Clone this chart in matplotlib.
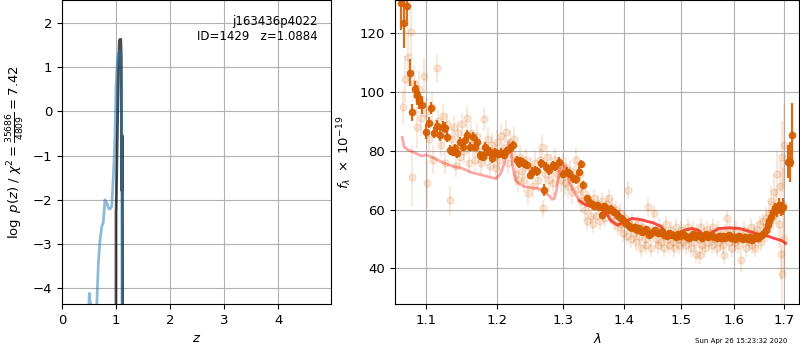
import numpy as np
import matplotlib
matplotlib.use('Agg')
import matplotlib.pyplot as plt
from matplotlib.ticker import FixedLocator, FormatStrFormatter, NullLocator

# ---- left panel: log p(z)
z_coarse = [0.49, 0.506, 0.52, 0.55, 0.60, 0.64, 0.673, 0.704, 0.735, 0.765, 0.796,
            0.827, 0.84, 0.865, 0.889, 0.92, 0.95, 0.98, 1.00, 1.025, 1.043, 1.063,
            1.074, 1.085, 1.099, 1.105, 1.111, 1.12]
lnp_coarse = [-4.6, -4.12, -4.3, -4.45, -4.6, -4.5, -3.44, -2.91, -2.62, -2.5, -2.0,
              -2.07, -2.11, -2.2, -2.21, -2.15, -1.5, -0.64, 0.57, 1.15, 1.3, 1.37,
              1.37, 1.2, 0.57, -1.5, -4.6, -5.0]

z_fine = [0.999, 1.000, 1.003, 1.02, 1.045, 1.062, 1.075, 1.088, 1.098, 1.101,
          1.104, 1.108, 1.114, 1.116, 1.120, 1.124]
lnp_fine = [-6.0, -2.3, -2.2, -0.8, 0.9, 1.6, 1.63, 1.63, 1.2, -0.5, -1.6, -1.8,
            -1.0, -0.55, -2.5, -6.0]

root = 'j163436p4022'
obj_id = 1429
z_best = 1.0884
chi2 = 35686
dof = 4809

# ---- right panel: spectrum (wavelength in micron, flux x 1e-19)
bin_wave = [1.0680, 1.0714, 1.0758, 1.0793, 1.0823, 1.0858, 1.0889, 1.0916, 1.0947,
            1.1004, 1.1045, 1.1072, 1.1116, 1.1148, 1.1193, 1.1230, 1.1261, 1.1293,
            1.1330, 1.1367, 1.1399, 1.1432, 1.1469, 1.1506, 1.1539, 1.1571, 1.1609,
            1.1647, 1.1680, 1.1713, 1.1751, 1.1789, 1.1822, 1.1856, 1.1894, 1.1928,
            1.1967, 1.2015, 1.2050, 1.2090, 1.2131, 1.2192, 1.2232, 1.2283, 1.2318,
            1.2354, 1.2394, 1.2434, 1.2485, 1.2520, 1.2556, 1.2586, 1.2646, 1.2697,
            1.2737, 1.2773, 1.2838, 1.2874, 1.2939, 1.3000, 1.3055, 1.3098, 1.3153,
            1.3208, 1.3246, 1.3284, 1.3317,
            1.338, 1.342, 1.346, 1.350, 1.354, 1.358, 1.362, 1.366, 1.370, 1.374,
            1.378, 1.382, 1.386, 1.390, 1.394, 1.398, 1.402, 1.406, 1.410, 1.414,
            1.418, 1.422, 1.426, 1.430, 1.434, 1.438, 1.442, 1.446, 1.450, 1.454,
            1.458, 1.462, 1.466, 1.470, 1.474, 1.478, 1.482, 1.486, 1.490, 1.494,
            1.498, 1.502, 1.506, 1.510, 1.514, 1.518, 1.522, 1.526, 1.530, 1.534,
            1.538, 1.542, 1.546, 1.550, 1.554, 1.558, 1.562, 1.566, 1.570, 1.574,
            1.578, 1.582, 1.586, 1.590, 1.594, 1.598, 1.602, 1.606, 1.610, 1.614,
            1.618, 1.622, 1.626, 1.630, 1.634, 1.638, 1.642, 1.646, 1.650, 1.654,
            1.658, 1.662, 1.666, 1.670, 1.674, 1.678, 1.682, 1.686, 1.690, 1.694,
            1.698, 1.707, 1.713, 1.716]
bin_flux = [130.2, 123.4, 129.3, 106.6, 93.1, 100.9, 99.0, 97.3, 95.6,
            86.5, 89.6, 94.5, 86.2, 88.4, 85.4, 88.2, 87.9, 84.8,
            80.3, 79.7, 80.8, 79.1, 83.1, 81.4, 83.7, 85.4, 81.4,
            84.8, 81.4, 83.1, 78.5, 78.0, 81.4, 79.7, 79.7, 77.4,
            79.5, 78.9, 79.4, 78.6, 79.9, 80.8, 82.0, 76.9, 75.7,
            76.5, 75.8, 75.2, 71.8, 72.9, 73.5, 73.0, 75.7, 66.8,
            74.6, 73.4, 75.1, 74.8, 76.3, 72.1, 72.9, 72.3, 70.6,
            70.3, 72.9, 75.5, 68.4,
            63.8, 62.7, 61.8, 61.2, 61.5, 60.8, 58.1, 61.1, 60.5, 59.8,
            60.3, 59.3, 58.7, 57.9, 57.1, 56.4, 55.4, 54.7, 54.2, 53.6,
            54.0, 53.0, 53.6, 52.5, 52.8, 53.4, 51.3, 52.0, 52.5, 53.2,
            52.2, 51.9, 52.6, 51.4, 51.0, 52.0, 51.6, 51.3, 50.6, 51.6,
            51.2, 52.0, 51.3, 50.8, 50.2, 51.0, 51.6, 50.8, 51.4, 50.9,
            50.3, 51.2, 51.8, 50.6, 50.9, 51.5, 50.7, 50.5, 51.2, 50.4,
            51.0, 50.2, 50.9, 51.4, 50.3, 50.8, 49.9, 50.6, 51.1, 50.4,
            50.0, 50.8, 50.1, 50.7, 49.8, 50.3, 51.0, 50.4, 50.9, 51.5,
            51.9, 53.0, 54.7, 56.2, 57.6, 59.3, 60.4, 59.8, 61.5, 60.2,
            61.0, 76.3, 76.3, 85.4]
bin_err = [9.0, 8.5, 5.0, 4.5, 2.9, 3.0, 3.5, 3.0, 3.0,
           2.5, 2.0, 2.0, 2.0, 2.0, 2.0, 1.8, 1.8, 1.8,
           1.6, 1.6, 1.6, 1.6, 1.6, 1.6, 1.6, 1.6, 1.6,
           1.5, 1.5, 1.5, 1.5, 1.5, 1.5, 1.5, 1.5, 1.5,
           1.5, 1.5, 1.5, 1.5, 1.5, 1.5, 1.5, 1.5, 1.5,
           1.5, 1.5, 1.5, 1.5, 1.5, 1.5, 1.5, 1.5, 2.0,
           1.5, 1.5, 1.5, 1.5, 1.5, 1.5, 1.5, 1.5, 1.5,
           1.5, 1.5, 1.5, 1.5,
           1.2, 1.2, 1.2, 1.2, 1.2, 1.2, 1.2, 1.2, 1.2, 1.2,
           1.2, 1.2, 1.2, 1.2, 1.2, 1.2, 1.0, 1.0, 1.0, 1.0,
           1.0, 1.0, 1.0, 1.0, 1.0, 1.0, 1.0, 1.0, 1.0, 1.0,
           1.0, 1.0, 1.0, 1.0, 1.0, 1.0, 1.0, 1.0, 1.0, 1.0,
           1.0, 1.0, 1.0, 1.0, 1.0, 1.0, 1.0, 1.0, 1.0, 1.0,
           1.0, 1.0, 1.0, 1.0, 1.0, 1.0, 1.0, 1.0, 1.0, 1.0,
           1.0, 1.0, 1.0, 1.0, 1.0, 1.0, 1.0, 1.0, 1.0, 1.0,
           1.0, 1.0, 1.0, 1.0, 1.0, 1.0, 1.0, 1.0, 1.0, 1.2,
           1.2, 1.3, 1.4, 1.5, 1.6, 1.8, 2.0, 2.2, 2.5, 2.5,
           2.8, 5.7, 6.8, 10.8]

raw_wave = [1.0700, 1.0727, 1.0760, 1.0800, 1.0815, 1.0850, 1.0880, 1.0910, 1.0940,
            1.0980, 1.1000, 1.1020,
            1.1040, 1.1080, 1.1100, 1.1147, 1.1170, 1.1200, 1.1230, 1.1260, 1.1290,
            1.1325, 1.1350, 1.1380, 1.1410, 1.1440, 1.1470, 1.1500, 1.1530, 1.1560,
            1.1590, 1.1620, 1.1650, 1.1680, 1.1710, 1.1740, 1.1770, 1.1800, 1.1830,
            1.1860, 1.1890, 1.1920, 1.1950, 1.1980,
            1.2000, 1.2030, 1.2060, 1.2090, 1.2120, 1.2150, 1.2180, 1.2210, 1.2250,
            1.2270, 1.2300, 1.2330, 1.2360, 1.2400, 1.2430, 1.2460, 1.2500, 1.2530,
            1.2560, 1.2600, 1.2640, 1.2670, 1.2690, 1.2720, 1.2750, 1.2780, 1.2810,
            1.2840, 1.2870, 1.2900, 1.2930, 1.2960, 1.2990,
            1.3020, 1.3050, 1.3080, 1.3110, 1.3140, 1.3170, 1.3200, 1.3230, 1.3260,
            1.3290, 1.3320, 1.3350, 1.3380, 1.3410,
            1.3440, 1.3470, 1.3500, 1.3530, 1.3560, 1.3590, 1.3620, 1.3650, 1.3680,
            1.3710, 1.3740, 1.3770, 1.3800, 1.3830, 1.3860, 1.3890, 1.3920, 1.3950,
            1.3980,
            1.4010, 1.4040, 1.4060, 1.4080, 1.4110, 1.4140, 1.4170, 1.4200, 1.4230,
            1.4260, 1.4290, 1.4320, 1.4350, 1.4380, 1.4410, 1.4440, 1.4470, 1.4500,
            1.4520,
            1.4550, 1.4580, 1.4610, 1.4640, 1.4670, 1.4700, 1.4730, 1.4760, 1.4790,
            1.4820, 1.4850, 1.4880, 1.4910, 1.4940, 1.4970,
            1.5000, 1.5030, 1.5060, 1.5090, 1.5120, 1.5150, 1.5180, 1.5210, 1.5240,
            1.5270, 1.5300, 1.5330, 1.5350, 1.5360, 1.5390, 1.5420, 1.5450, 1.5480,
            1.5510, 1.5540, 1.5570, 1.5600, 1.5630, 1.5660, 1.5690, 1.5720, 1.5750,
            1.5780, 1.5800, 1.5830, 1.5860, 1.5890, 1.5920, 1.5950, 1.5980,
            1.6010, 1.6040, 1.6070, 1.6100, 1.6140, 1.6170, 1.6200, 1.6230, 1.6260,
            1.6290, 1.6320, 1.6350, 1.6380, 1.6410, 1.6440, 1.6470, 1.6500,
            1.6530, 1.6560, 1.6590, 1.6620, 1.6650, 1.6680, 1.6710, 1.6740, 1.6770,
            1.6800, 1.6830, 1.6860, 1.6890, 1.6910, 1.6930, 1.6950, 1.6960, 1.6980,
            1.6990, 1.7000]
raw_flux = [95.0, 104.3, 112.0, 120.3, 71.2, 103.0, 88.0, 101.0, 91.0,
            105.5, 93.0, 69.0,
            84.0, 95.0, 77.0, 108.1, 90.0, 82.0, 92.0, 76.0, 89.0,
            63.2, 84.0, 88.0, 75.0, 86.0, 78.0, 89.0, 80.0, 91.0,
            76.0, 86.0, 82.0, 77.0, 85.0, 80.0, 76.0, 90.8, 79.0,
            84.0, 75.0, 82.0, 78.0, 74.0,
            83.0, 77.0, 85.0, 81.0, 86.5, 76.0, 83.0, 79.0, 84.0,
            72.0, 70.0, 78.0, 73.0, 70.0, 77.0, 65.5, 74.0, 68.0,
            76.0, 70.0, 77.0, 81.4, 60.4, 72.0, 78.0, 70.0, 75.0,
            69.0, 77.0, 72.0, 74.0, 70.0, 75.0,
            69.0, 74.0, 68.0, 73.0, 66.0, 71.0, 77.0, 67.0, 72.0,
            63.0, 66.0, 60.0, 56.0, 63.0,
            58.0, 55.0, 64.0, 58.0, 62.0, 56.0, 63.0, 59.0, 57.0,
            62.0, 64.0, 58.0, 61.0, 56.0, 60.0, 54.0, 59.0, 55.0,
            52.0,
            57.0, 51.0, 66.6, 55.0, 50.0, 56.0, 52.0, 49.0, 55.0,
            51.0, 47.0, 54.0, 50.0, 48.0, 61.0, 52.0, 46.8, 53.0,
            58.7,
            50.0, 48.0, 54.0, 49.0, 52.0, 47.0, 55.0, 50.0, 48.0,
            53.0, 49.0, 47.0, 54.0, 50.0, 48.0,
            53.0, 49.0, 52.0, 48.0, 54.0, 50.0, 47.0, 53.0, 49.0,
            45.0, 52.0, 50.0, 44.5, 54.0, 48.0, 51.0, 47.0, 53.0,
            49.0, 52.0, 48.0, 54.0, 50.0, 47.0, 53.0, 49.0, 51.0,
            48.0, 44.5, 52.0, 57.0, 49.0, 53.0, 47.0, 51.0,
            49.0, 53.0, 48.0, 51.0, 42.8, 50.0, 53.0, 47.0, 51.0,
            49.0, 54.0, 48.0, 52.0, 47.0, 53.0, 50.0, 55.0,
            49.0, 56.0, 52.0, 57.0, 53.0, 59.0, 56.0, 63.0, 58.0,
            66.0, 61.0, 72.0, 55.0, 68.0, 45.0, 78.0, 38.0, 62.0,
            50.0, 82.0]
raw_err = [6, 8, 10, 8, 10, 6, 7, 6, 6,
           6, 5, 8,
           5, 5, 5, 5, 4, 4, 4, 4, 4,
           5, 4, 4, 4, 4, 4, 4, 4, 4,
           4, 4, 4, 4, 4, 4, 4, 4, 4,
           4, 4, 4, 4, 4,
           4, 4, 4, 4, 4, 4, 4, 4, 4,
           4, 4, 4, 4, 4, 4, 4, 4, 4,
           4, 4, 4, 4, 3, 4, 4, 4, 4,
           4, 4, 4, 4, 4, 4,
           4, 4, 4, 4, 4, 4, 4, 4, 4,
           4, 4, 4, 3, 3,
           3, 3, 3, 3, 3, 3, 3, 3, 3,
           3, 3, 3, 3, 3, 3, 3, 3, 3,
           3,
           3, 3, 3, 3, 3, 3, 3, 3, 3,
           3, 3, 3, 3, 3, 3, 3, 3, 3,
           3,
           3, 3, 3, 3, 3, 3, 3, 3, 3,
           3, 3, 3, 3, 3, 3,
           3, 3, 3, 3, 3, 3, 3, 3, 3,
           3, 3, 3, 3, 3, 3, 3, 3, 3,
           3, 3, 3, 3, 3, 3, 3, 3, 3,
           3, 3, 3, 3, 3, 3, 3, 3,
           3, 3, 3, 3, 4, 3, 3, 3, 3,
           3, 3, 3, 3, 3, 3, 3, 3,
           3, 3, 3, 4, 4, 4, 4, 5, 5,
           6, 6, 8, 8, 9, 9, 12, 10, 12,
           12, 14]

model_wave = [1.0690, 1.0713, 1.0766, 1.0850, 1.0945, 1.1004, 1.1090, 1.1228, 1.1362,
              1.1498, 1.1632, 1.1770, 1.1910, 1.1979, 1.2049, 1.2100, 1.2141, 1.2166,
              1.2192, 1.2227, 1.2268, 1.2328, 1.2404, 1.2505, 1.2606, 1.2707, 1.2783,
              1.2823, 1.2859, 1.2894, 1.2935, 1.2960, 1.2985, 1.3039, 1.3093, 1.3170,
              1.3257, 1.3366, 1.3475, 1.3584, 1.3666, 1.3721, 1.3765, 1.3886, 1.4005,
              1.4130, 1.4255, 1.4326, 1.4413, 1.4500, 1.4646, 1.4762, 1.4917, 1.5058,
              1.5186, 1.5314, 1.5470, 1.5589, 1.5709, 1.5906, 1.6106, 1.6311, 1.6460,
              1.6611, 1.6802, 1.6960, 1.7030]
model_flux = [84.6, 81.4, 80.3, 79.4, 78.2, 78.6, 77.8, 76.0, 74.8,
              74.0, 72.6, 71.8, 70.9, 70.6, 72.3, 75.7, 80.3, 83.1,
              81.4, 74.6, 70.1, 68.7, 67.8, 67.4, 67.2, 66.1, 64.6,
              63.5, 63.8, 66.6, 72.3, 75.7, 75.8, 74.0, 69.5, 66.1,
              63.0, 61.5, 61.0, 60.4, 59.3, 58.1, 56.4, 54.7, 55.9,
              57.0, 56.7, 56.4, 55.9, 55.5, 54.2, 50.5, 50.5, 53.0,
              53.6, 53.0, 50.8, 52.5, 53.6, 53.8, 53.6, 52.5, 51.7,
              51.3, 50.2, 49.4, 48.5]

grism_color = (0.8353, 0.3686, 0.0)

fig = plt.figure(figsize=(8, 3.5), dpi=100)
plt.rcParams['font.size'] = 9.5

ax = fig.add_axes([0.0775, 0.1314, 0.33625, 0.8686])
ax.plot(z_fine, lnp_fine, color='k', alpha=0.7, lw=2)
ax.plot(z_coarse, lnp_coarse, color='tab:blue', alpha=0.5, lw=2)
ax.set_xlim(0, 4.98)
ax.set_ylim(-4.36, 2.52)
ax.set_xticks([0, 1, 2, 3, 4])
ax.set_yticks([-4, -3, -2, -1, 0, 1, 2])
ax.grid()
ax.set_xlabel(r'$z$')
ax.set_ylabel(r'$\log\ p(z)$' + ' / ' +
              r'$\chi^2=\frac{{{0}}}{{{1}}}={2:.2f}$'.format(chi2, dof, chi2 / dof))
ax.text(0.95, 0.95, '{0}\nID={1}   z={2:.4f}'.format(root, obj_id, z_best),
        ha='right', va='top', transform=ax.transAxes, fontsize=8.5)

ax2 = fig.add_axes([0.49375, 0.1314, 0.5054, 0.8686])
ax2.errorbar(raw_wave, raw_flux, yerr=raw_err, color=grism_color, alpha=0.14,
             marker='o', markersize=5, linestyle='None', elinewidth=1.5)
ax2.errorbar(bin_wave, bin_flux, yerr=bin_err, color=grism_color, alpha=0.9,
             marker='o', markersize=4.5, linestyle='None', elinewidth=1.6)
mw = np.array(model_wave)
mf = np.array(model_flux)
ax2.plot(mw, mf, color='r', alpha=0.35, lw=2)
red_part = mw >= 1.3257
ax2.plot(mw[red_part], mf[red_part], color='r', alpha=0.55, lw=2)

ax2.set_xscale('log')
ax2.set_xlim(1.0597, 1.7316)
ax2.set_ylim(27.9, 131.3)
ax2.xaxis.set_major_locator(FixedLocator([1.1, 1.2, 1.3, 1.4, 1.5, 1.6, 1.7]))
ax2.xaxis.set_major_formatter(FormatStrFormatter('%.1f'))
ax2.xaxis.set_minor_locator(NullLocator())
ax2.set_yticks([40, 60, 80, 100, 120])
ax2.grid()
ax2.set_xlabel(r'$\lambda$')
ax2.set_ylabel(r'$f_\lambda\ \times\ 10^{-19}$')

fig.text(0.984, 0.026, 'Sun Apr 26 15:23:32 2020', ha='right', va='center', fontsize=5)

fig.savefig('out.png', dpi=100)
